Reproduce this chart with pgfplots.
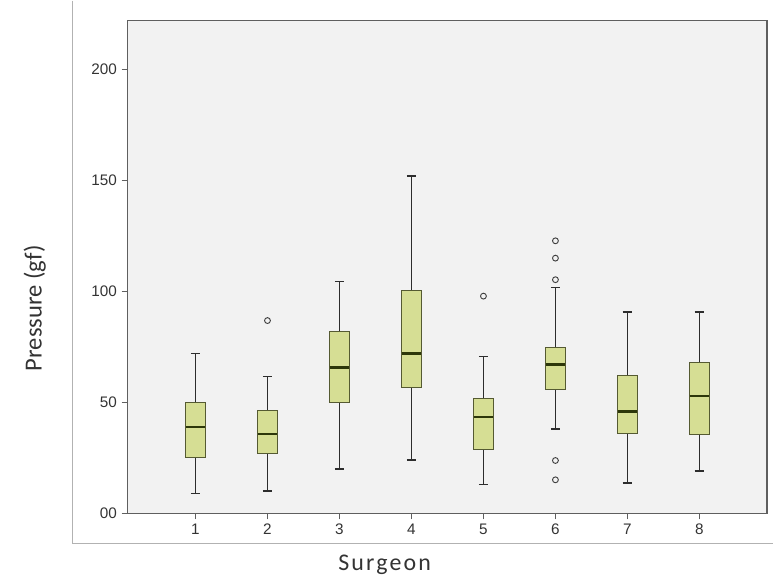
\documentclass[border=0pt]{standalone}
\usepackage{fontspec}
\setmainfont{Carlito}
\newfontfamily\tickfont{Liberation Sans}
\usepackage{pgfplots}
\pgfplotsset{compat=1.18}
\usepgfplotslibrary{statistics}
\definecolor{boxfill}{RGB}{214,222,148}
\definecolor{boxedge}{RGB}{85,90,50}
\definecolor{medcol}{RGB}{45,55,10}
\definecolor{whisk}{RGB}{45,45,45}
\definecolor{plotbg}{RGB}{242,242,242}
\definecolor{axcol}{RGB}{95,95,95}
\begin{document}
\begin{tikzpicture}
\begin{axis}[
  scale only axis,
  width=481.5pt, height=371.25pt,
  xmin=0.056, xmax=8.94,
  ymin=0, ymax=222,
  clip=false,
  axis background/.style={fill=plotbg},
  axis line style={axcol, line width=0.9pt},
  xtick={1,...,8},
  ytick={0,50,100,150,200},
  yticklabels={00,50,100,150,200},
  tick align=outside, tick pos=left,
  major tick length=4.5pt,
  tick style={axcol, line width=0.9pt},
  ticklabel style={font=\tickfont\fontsize{11.5}{13}\selectfont, text=black!80},
  /pgf/number format/assume math mode=true,
  boxplot/draw direction=y,
  boxplot/box extend=0.27,
  boxplot/whisker extend=0.13,
  boxplot/every box/.style={draw=boxedge, fill=boxfill, line width=0.7pt},
  boxplot/every whisker/.style={draw=whisk, line width=1.1pt},
  boxplot/every median/.style={draw=medcol, line width=1.8pt},
  outl/.style={solid, mark=o, mark options={draw=black!75, fill=none, line width=0.7pt}, mark size=2.2pt},
]
% outer frame
\draw[gray!60, line width=0.8pt] (rel axis cs:-0.0857,1.04) -- (rel axis cs:-0.0857,-0.0606) -- (rel axis cs:1.01,-0.0606);
\path (rel axis cs:-0.1994,-0.1293) rectangle (rel axis cs:1.0062,1.0364);

\addplot+[outl,
  boxplot prepared={draw position=1, lower whisker=9, lower quartile=25, median=39, upper quartile=50, upper whisker=72}] table[row sep=\\, y index=0] {y\\};
\addplot+[outl,
  boxplot prepared={draw position=2, lower whisker=10, lower quartile=26.8, median=35.7, upper quartile=46.5, upper whisker=61.6}] table[row sep=\\, y index=0] {y\\ 86.8\\};
\addplot+[outl,
  boxplot prepared={draw position=3, lower whisker=20, lower quartile=49.8, median=65.6, upper quartile=82, upper whisker=104.5}] table[row sep=\\, y index=0] {y\\};
\addplot+[outl,
  boxplot prepared={draw position=4, lower whisker=24, lower quartile=56.6, median=72, upper quartile=100.4, upper whisker=151.9}] table[row sep=\\, y index=0] {y\\};
\addplot+[outl,
  boxplot prepared={draw position=5, lower whisker=13, lower quartile=28.7, median=43.5, upper quartile=51.7, upper whisker=70.5}] table[row sep=\\, y index=0] {y\\ 97.8\\};
\addplot+[outl,
  boxplot prepared={draw position=6, lower whisker=38, lower quartile=55.6, median=67, upper quartile=74.6, upper whisker=101.8}] table[row sep=\\, y index=0] {y\\ 122.7\\ 114.9\\ 105.2\\ 23.8\\ 15.1\\};
\addplot+[outl,
  boxplot prepared={draw position=7, lower whisker=13.6, lower quartile=36, median=45.9, upper quartile=62.2, upper whisker=90.6}] table[row sep=\\, y index=0] {y\\};
\addplot+[outl,
  boxplot prepared={draw position=8, lower whisker=19, lower quartile=35.7, median=52.9, upper quartile=67.9, upper whisker=90.6}] table[row sep=\\, y index=0] {y\\};

\node[font=\fontsize{18}{21}\selectfont\addfontfeature{LetterSpace=9}, text=black!80] at (rel axis cs:0.402,-0.105) {Surgeon};
\node[font=\fontsize{18.5}{21}\selectfont, text=black!80, rotate=90] at (rel axis cs:-0.145,0.416) {Pressure (gf)};
\end{axis}
\end{tikzpicture}
\end{document}
